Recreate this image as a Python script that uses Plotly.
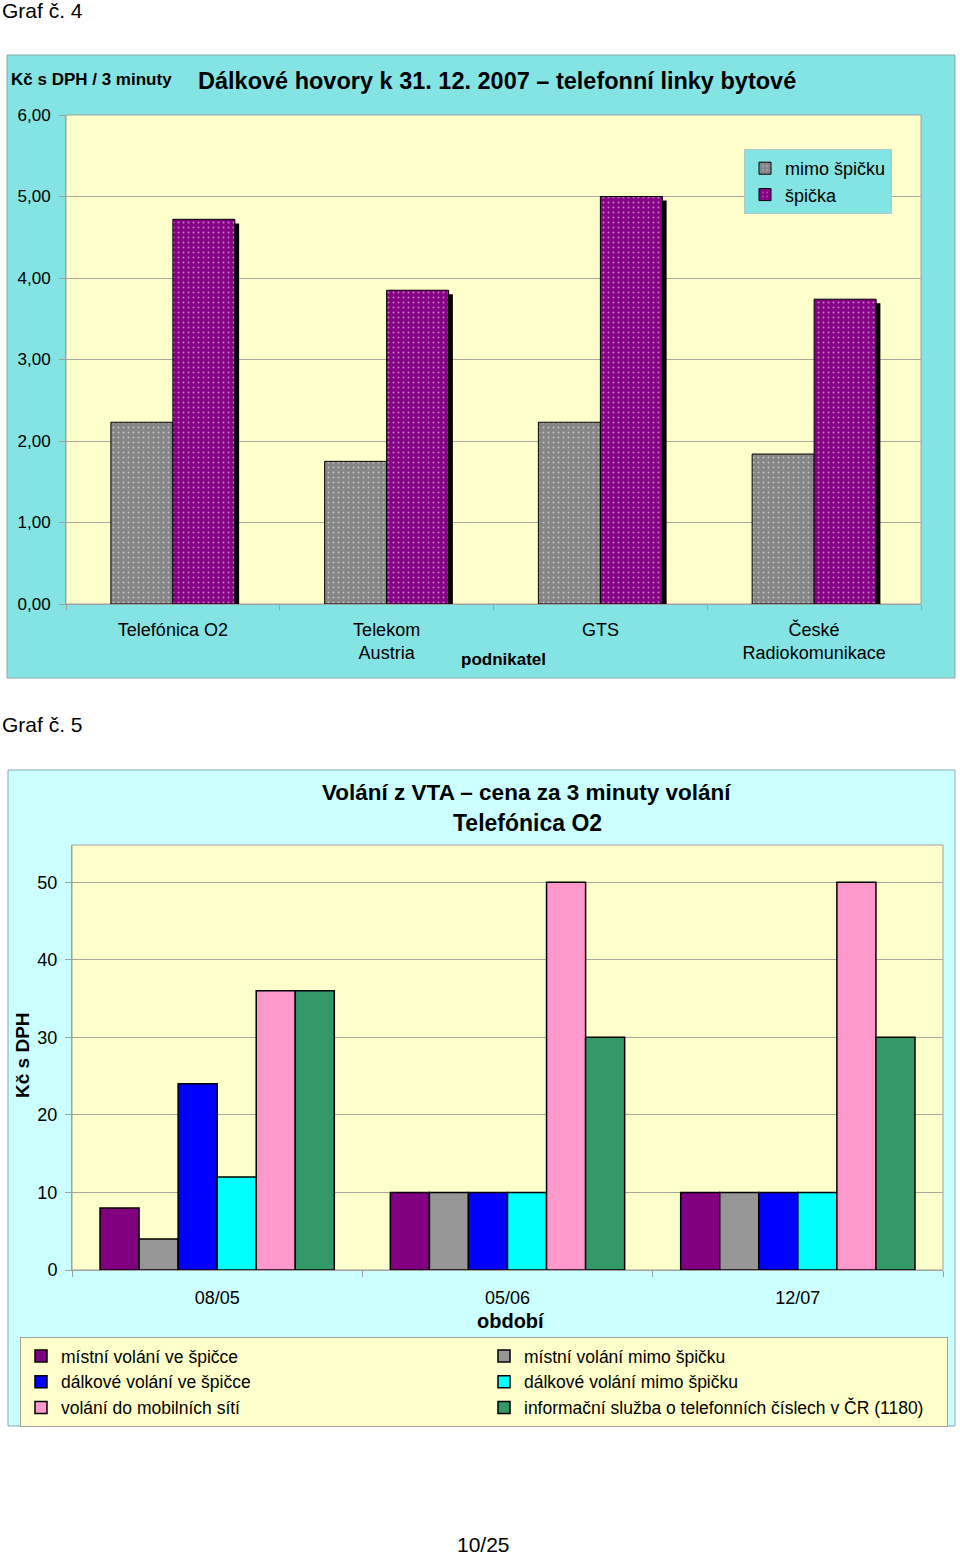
import plotly.graph_objects as go

W, H = 960, 1556

# ---------------- data: chart 1 ----------------
c1_categories = ["Telefónica O2", "Telekom<br>Austria", "GTS", "České<br>Radiokomunikace"]
c1_offpeak = [2.23, 1.75, 2.23, 1.84]     # mimo špičku
c1_peak = [4.72, 3.85, 5.00, 3.74]        # špička
c1_series_names = ["mimo špičku", "špička"]
c1_yticks = [0, 1, 2, 3, 4, 5, 6]

# ---------------- data: chart 2 ----------------
c2_categories = ["08/05", "05/06", "12/07"]
c2_series_names = [
    "místní volání ve špičce",
    "místní volání mimo špičku",
    "dálkové volání ve špičce",
    "dálkové volání mimo špičku",
    "volání do mobilních sítí",
    "informační služba o telefonních číslech v ČR (1180)",
]
c2_local_peak = [8, 10, 10]
c2_local_offpeak = [4, 10, 10]
c2_long_peak = [24, 10, 10]
c2_long_offpeak = [12, 10, 10]
c2_mobile = [36, 50, 50]
c2_info = [36, 30, 30]
c2_yticks = [0, 10, 20, 30, 40, 50]

c2_values = [c2_local_peak, c2_local_offpeak, c2_long_peak, c2_long_offpeak, c2_mobile, c2_info]
c2_colors = ["#800080", "#969696", "#0000FF", "#00FFFF", "#FF99CC", "#339966"]

FONT = "Liberation Sans, Arial, sans-serif"


def px(x):
    return x / W


def py(y):
    return 1 - y / H


fig = go.Figure()

# ---------- chart 1 traces ----------
bw1 = 0.29
fig.add_trace(go.Bar(
    x=c1_categories, y=c1_peak, base=-0.05, xaxis="x", yaxis="y",
    width=bw1, offset=0.02, marker=dict(color="black", line=dict(width=0)),
    showlegend=False, hoverinfo="skip"))
fig.add_trace(go.Bar(
    x=c1_categories, y=c1_offpeak, name=c1_series_names[0], xaxis="x", yaxis="y",
    width=bw1, offset=-bw1, legend="legend",
    marker=dict(color="#858585", line=dict(color="black", width=1),
                pattern=dict(shape=".", fgcolor="white", size=5, solidity=0.13))))
fig.add_trace(go.Bar(
    x=c1_categories, y=c1_peak, name=c1_series_names[1], xaxis="x", yaxis="y",
    width=bw1, offset=0, legend="legend",
    marker=dict(color="#850085", line=dict(color="black", width=1),
                pattern=dict(shape=".", fgcolor="white", size=5, solidity=0.13))))

# ---------- chart 2 traces ----------
bw2 = 0.1345
start = -3 * bw2
for i, (name, vals, col) in enumerate(zip(c2_series_names, c2_values, c2_colors)):
    fig.add_trace(go.Bar(
        x=c2_categories, y=vals, name=name, xaxis="x2", yaxis="y2",
        width=bw2, offset=start + i * bw2, legend="legend2",
        marker=dict(color=col, line=dict(color="black", width=1.5))))

shapes = [
    # chart 1 panel
    dict(type="rect", xref="paper", yref="paper", x0=px(7), x1=px(955), y0=py(678), y1=py(55),
         fillcolor="#84E4E4", line=dict(color="#8AA8A8", width=1), layer="below"),
    # chart 1 plot area
    dict(type="rect", xref="paper", yref="paper", x0=px(66), x1=px(921), y0=py(604), y1=py(115),
         fillcolor="#FFFFCC", line=dict(color="#A0A0A0", width=1), layer="below"),
    # chart 2 panel
    dict(type="rect", xref="paper", yref="paper", x0=px(8), x1=px(955), y0=py(1426), y1=py(770),
         fillcolor="#CCFFFF", line=dict(color="#8AA8B8", width=1), layer="below"),
    # chart 2 plot area
    dict(type="rect", xref="paper", yref="paper", x0=px(72), x1=px(943), y0=py(1270), y1=py(845),
         fillcolor="#FFFFCC", line=dict(color="#A0A0A0", width=1), layer="below"),
]

annotations = [
    dict(text="Graf č. 4", x=px(0), y=py(11), xanchor="left", yanchor="middle",
         font=dict(size=21, color="black")),
    dict(text="<b>Kč s DPH / 3 minuty</b>", x=px(9), y=py(80), xanchor="left", yanchor="middle",
         font=dict(size=17, color="black")),
    dict(text="<b>Dálkové hovory k 31. 12. 2007 – telefonní linky bytové</b>", x=px(497), y=py(81),
         xanchor="center", yanchor="middle", font=dict(size=23.5, color="black")),
    dict(text="<b>podnikatel</b>", x=px(503), y=py(659), xanchor="center", yanchor="middle",
         font=dict(size=17, color="black")),
    dict(text="Graf č. 5", x=px(0), y=py(724), xanchor="left", yanchor="middle",
         font=dict(size=21, color="black")),
    dict(text="<b>Volání z VTA – cena za 3 minuty volání</b>", x=px(526), y=py(792),
         xanchor="center", yanchor="middle", font=dict(size=22.5, color="black")),
    dict(text="<b>Telefónica O2</b>", x=px(527), y=py(823),
         xanchor="center", yanchor="middle", font=dict(size=23, color="black")),
    dict(text="<b>Kč s DPH</b>", x=px(22), y=py(1055), xanchor="center", yanchor="middle",
         textangle=-90, font=dict(size=19, color="black")),
    dict(text="<b>období</b>", x=px(511), y=py(1321), xanchor="center", yanchor="middle",
         font=dict(size=20, color="black")),
    dict(text="10/25", x=px(483), y=py(1544), xanchor="center", yanchor="middle",
         font=dict(size=21, color="black")),
]
for a in annotations:
    a.update(xref="paper", yref="paper", showarrow=False)

fig.update_layout(
    width=W, height=H,
    margin=dict(l=0, r=0, t=0, b=0, autoexpand=False),
    paper_bgcolor="white",
    plot_bgcolor="rgba(0,0,0,0)",
    font=dict(family=FONT, color="black"),
    separators=", ",
    barmode="overlay",
    shapes=shapes,
    annotations=annotations,
    xaxis=dict(domain=[px(66), px(921)], anchor="y", type="category",
               showgrid=False, showline=True, linecolor="#A0A0A0",
               ticks="outside", tickson="boundaries", ticklen=5, tickcolor="#A0A0A0",
               tickfont=dict(size=18), ticklabelstandoff=9),
    yaxis=dict(domain=[py(604), py(115)], anchor="x", range=[0, 6],
               tickvals=c1_yticks, tickformat=".2f",
               showgrid=True, gridcolor="#A8A8A0", gridwidth=1,
               showline=True, linecolor="#A0A0A0", zeroline=False,
               ticks="outside", ticklen=6, tickcolor="#A0A0A0",
               tickfont=dict(size=17), ticklabelstandoff=5),
    xaxis2=dict(domain=[px(72), px(943)], anchor="y2", type="category",
                showgrid=False, showline=True, linecolor="#A0A0A0",
                ticks="outside", tickson="boundaries", ticklen=6, tickcolor="#A0A0A0",
                tickfont=dict(size=18), ticklabelstandoff=11),
    yaxis2=dict(domain=[py(1270), py(845)], anchor="x2", range=[0, 54.8],
                tickvals=c2_yticks,
                showgrid=True, gridcolor="#A8A8A0", gridwidth=1,
                showline=True, linecolor="#A0A0A0", zeroline=False,
                ticks="outside", ticklen=6, tickcolor="#A0A0A0",
                tickfont=dict(size=18), ticklabelstandoff=4),
    legend=dict(x=px(744), y=py(149), xanchor="left", yanchor="top",
                bgcolor="#84E4E4", bordercolor="#B0C8C8", borderwidth=1,
                font=dict(size=18), itemwidth=30, tracegroupgap=0,
                traceorder="normal"),
    legend2=dict(x=px(20), y=py(1337), xanchor="left", yanchor="top",
                 orientation="h", entrywidth=418, entrywidthmode="pixels",
                 bgcolor="#FFFFCC", bordercolor="#A0A0A0", borderwidth=1,
                 font=dict(size=17.5), itemwidth=30, traceorder="normal"),
)

fig.write_html("out.html", config={"displayModeBar": False},
               post_script="document.body.style.margin='0';")
